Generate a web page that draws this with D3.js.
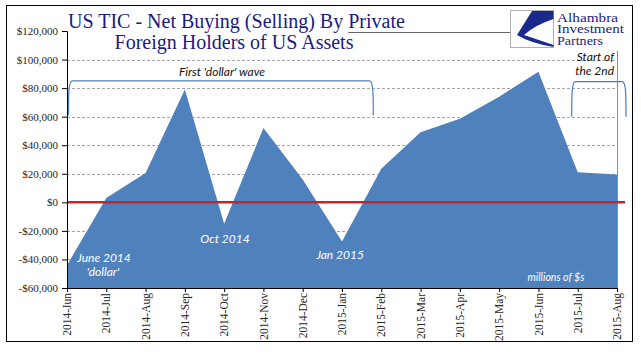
<!DOCTYPE html>
<html><head><meta charset="utf-8">
<script src="https://cdn.jsdelivr.net/npm/d3@7"></script>
<style>body{margin:0;background:#fff}svg{display:block}</style>
</head><body>
<svg id="c" width="641" height="361"></svg>
<script>
const months = ["2014-Jun","2014-Jul","2014-Aug","2014-Sep","2014-Oct","2014-Nov","2014-Dec","2015-Jan","2015-Feb","2015-Mar","2015-Apr","2015-May","2015-Jun","2015-Jul","2015-Aug"];
const values = [-44000, 3000, 20500, 79000, -15000, 52000, 16000, -27500, 23500, 49000, 58500, 74000, 91500, 21000, 19500];
const yTicks = [-60000,-40000,-20000,0,20000,40000,60000,80000,100000,120000];
const titleLines = ["US TIC - Net Buying (Selling) By ", "Private", "Foreign Holders of US Assets"];
const logoLines = ["Alhambra","Investment","Partners"];

const svg = d3.select("#c");
const x = d3.scalePoint().domain(months).range([67, 617]);
const y = d3.scaleLinear().domain([-60000, 120000]).range([288, 31]);

// frame
svg.append("rect").attr("x",6.5).attr("y",5.5).attr("width",626).attr("height",336)
  .attr("fill","#fff").attr("stroke","#000").attr("stroke-width",1);

// gridlines
svg.append("g").selectAll("line").data(yTicks.filter(t => t !== 0 && t > -60000 && t < 120000))
  .join("line").attr("x1",67).attr("x2",617)
  .attr("y1",d=>Math.round(y(d))+0.5).attr("y2",d=>Math.round(y(d))+0.5)
  .attr("stroke","#a6a6a6").attr("stroke-width",1).attr("stroke-dasharray","3,2");

// area
const area = d3.area().x((d,i)=>x(months[i])).y0(y(-60000)).y1(d=>y(d));
svg.append("path").datum(values).attr("d",area).attr("fill","#4f81bd");

// right vertical line
svg.append("line").attr("x1",x("2015-Aug")+0.5).attr("x2",x("2015-Aug")+0.5)
  .attr("y1",51).attr("y2",y(-60000)).attr("stroke","#8c8c8c").attr("stroke-width",1);

// zero line
svg.append("line").attr("x1",67).attr("x2",625).attr("y1",y(0)).attr("y2",y(0))
  .attr("stroke","#c0272d").attr("stroke-width",2.5);

// axes
const fmt = d3.format(",");
const yAxis = d3.axisLeft(y).tickValues(yTicks).tickSize(5).tickPadding(4)
  .tickFormat(d => (d<0?"-$":"$") + fmt(Math.abs(d)));
const gy = svg.append("g").attr("transform","translate(67,0)").call(yAxis);
gy.select(".domain").attr("stroke","#000");
gy.selectAll(".tick line").attr("stroke","#000");
gy.selectAll("text").attr("font-family","Liberation Serif").attr("font-size",11).attr("fill","#262626");

const xAxis = d3.axisBottom(x).tickSize(4).tickSizeOuter(0);
const gx = svg.append("g").attr("transform","translate(0,288)").call(xAxis);
gx.select(".domain").attr("stroke","#000");
gx.selectAll(".tick line").attr("stroke","#000");
gx.selectAll("text").attr("font-family","Liberation Serif").attr("font-size",11.5).attr("fill","#262626")
  .attr("transform","rotate(-90)").attr("x",-5).attr("y",0).attr("dy","0.32em").attr("text-anchor","end");

// brackets
function bracket(x1, x2, yTop, yBot){
  return `M${x1},${yBot} C${x1},${yTop+12} ${x1},${yTop} ${x1+4},${yTop} L${x2-4},${yTop} C${x2},${yTop} ${x2},${yTop+12} ${x2},${yBot}`;
}
svg.append("path").attr("d", bracket(x("2014-Jun")+1.5, x("2015-Feb")-8, y(85000), y(61000)))
  .attr("fill","none").attr("stroke","#4a7ebb").attr("stroke-width",1.2);
svg.append("path").attr("d", bracket(x("2015-Jul")-6, x("2015-Aug")+9, y(84500), y(60000)))
  .attr("fill","none").attr("stroke","#4a7ebb").attr("stroke-width",1.2);

// annotation text
const ann = (t, xx, yy, anchor, color, size) => svg.append("text").text(t).attr("x",xx).attr("y",yy)
  .attr("text-anchor",anchor).attr("fill",color).attr("font-family","Lato").attr("font-style","italic")
  .attr("font-size",size);
ann("First 'dollar' wave", 222, 76, "middle", "#111", 12);
ann("Start of", 614, 60.5, "end", "#111", 12);
ann("the 2nd", 614, 75, "end", "#111", 12);
ann("June 2014", 77, 262, "start", "#fff", 12);
ann("'dollar'", 103, 276, "middle", "#fff", 12);
ann("Oct 2014", 225, 243, "middle", "#fff", 12);
ann("Jan 2015", 340, 259, "middle", "#fff", 12);
ann("millions of $s", 556, 281, "middle", "#fff", 10.5);

// title
const tcol = "#1b1b80";
const t1 = svg.append("text").attr("x",68).attr("y",28).attr("font-family","Liberation Serif")
  .attr("font-size",20).attr("fill",tcol);
t1.append("tspan").text(titleLines[0]);
const priv = t1.append("tspan").text(titleLines[1]);
svg.append("text").attr("x",234).attr("y",49).attr("text-anchor","middle").attr("font-family","Liberation Serif")
  .attr("font-size",20).attr("fill",tcol).text(titleLines[2]);
let px = 340;
try { const s = priv.node().getStartPositionOfChar(0); px = s.x; } catch(e){}
svg.append("line").attr("x1",px).attr("x2",510).attr("y1",32.5).attr("y2",32.5).attr("stroke","#666").attr("stroke-width",1);

// logo
const lg = svg.append("g").attr("transform","translate(510,10)");
lg.append("rect").attr("x",0.5).attr("y",0.5).attr("width",43).attr("height",37).attr("fill","#fff").attr("stroke","#b0b0b0");
lg.append("path").attr("d","M22,1 L43.5,1 L43.5,9 Q25,15 14,25 Q26,29 43.5,35 L43.5,37 Q20,33 7,25 Z").attr("fill","#1a2a8c");
const logoW = [61, 67, 46];
logoLines.forEach((t,i)=> svg.append("text").text(t).attr("x",557).attr("y",21.5+i*11.5)
  .attr("font-family","Liberation Serif").attr("font-size",12.5).attr("fill","#1a237e")
  .attr("textLength",logoW[i]).attr("lengthAdjust","spacingAndGlyphs"));
</script>
</body></html>
